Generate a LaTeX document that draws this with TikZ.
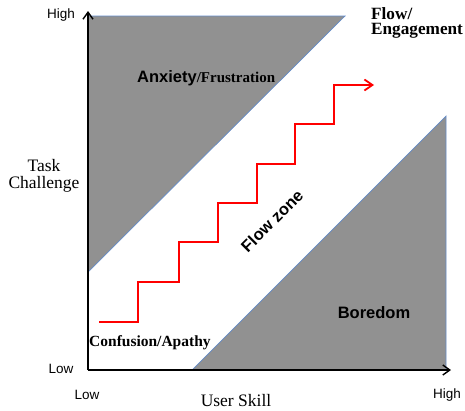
\documentclass[tikz,border=0pt]{standalone}
\usepackage{fontspec}
\setmainfont{Liberation Serif}
\setsansfont{Liberation Sans}
\usetikzlibrary{arrows.meta}
\definecolor{zonegray}{RGB}{145,145,145}
\definecolor{edgeblue}{RGB}{100,140,200}
\definecolor{stairred}{RGB}{255,0,0}
\tikzset{
  zone/.style={fill=zonegray, draw=edgeblue, line width=0.7pt},
  axis/.style={line width=1.8pt, -{Straight Barb[length=7pt,width=10pt,line width=1.4pt]}},
  stair/.style={draw=stairred, line width=2.6pt, -{Straight Barb[length=8pt,width=11pt,line width=1.8pt]}},
  ticklbl/.style={font=\sffamily\fontsize{13.5}{14}\selectfont, inner sep=0pt},
  axislbl/.style={font=\rmfamily\fontsize{17.5}{18}\selectfont, inner sep=0pt},
  zonelbl/.style={font=\sffamily\bfseries\fontsize{16.5}{17}\selectfont, inner sep=0pt},
  serlbl/.style={font=\rmfamily\bfseries\fontsize{15.5}{16}\selectfont, inner sep=0pt}
}
\begin{document}
\begin{tikzpicture}[x=1pt,y=-1pt]
\useasboundingbox (0,0) rectangle (465,410);
% zones
\path[zone] (88,16) -- (345,16) -- (88,272) -- cycle;
\path[zone] (192,370) -- (446,116) -- (446,370) -- cycle;
% axes
\coordinate (O) at (88,370);
\coordinate (ytop) at (88,11);
\coordinate (xend) at (451,370);
\draw[axis] (O) -- (ytop);
\draw[axis] (O) -- (xend);
% staircase
\coordinate (s0) at (99,322);
\coordinate (s1) at (138,322);
\coordinate (s2) at (138,282);
\coordinate (s3) at (179,282);
\coordinate (s4) at (179,242);
\coordinate (s5) at (218,242);
\coordinate (s6) at (218,203);
\coordinate (s7) at (257,203);
\coordinate (s8) at (257,164);
\coordinate (s9) at (295,164);
\coordinate (s10) at (295,124);
\coordinate (s11) at (334,124);
\coordinate (s12) at (334,85);
\coordinate (s13) at (374,85);
\draw[stair, line join=miter] (s0) -- (s1) -- (s2) -- (s3) -- (s4) -- (s5) -- (s6) -- (s7) -- (s8) -- (s9) -- (s10) -- (s11) -- (s12) -- (s13);
% tick labels
\node[ticklbl] (yhigh) at (61,15) {High};
\node[ticklbl] (ylow) at (61,369) {Low};
\node[ticklbl] (xlow) at (87,395) {Low};
\node[ticklbl] (xhigh) at (447,395) {High};
% axis labels
\node[axislbl] (xlab) at (236,401) {User Skill};
\node[axislbl, align=center] (ylab) at (44,176) {Task\\[-1pt]Challenge};
% zone labels
\node[anchor=base west, inner sep=0pt] (anx) at (137,82) {\sffamily\bfseries\fontsize{16.5}{17}\selectfont Anxiety\rmfamily\fontsize{15}{16}\selectfont/Frustration};
\node[serlbl, anchor=base west, align=left, font=\rmfamily\bfseries\fontsize{17.2}{15}\selectfont] (flow) at (371,34) {Flow/\\Engagement};
\node[zonelbl, rotate=45] (fz) at (272,221) {Flow zone};
\node[zonelbl] (bor) at (374,313) {Boredom};
\node[serlbl, anchor=west] (conf) at (89,343) {Confusion/Apathy};
\end{tikzpicture}
\end{document}
